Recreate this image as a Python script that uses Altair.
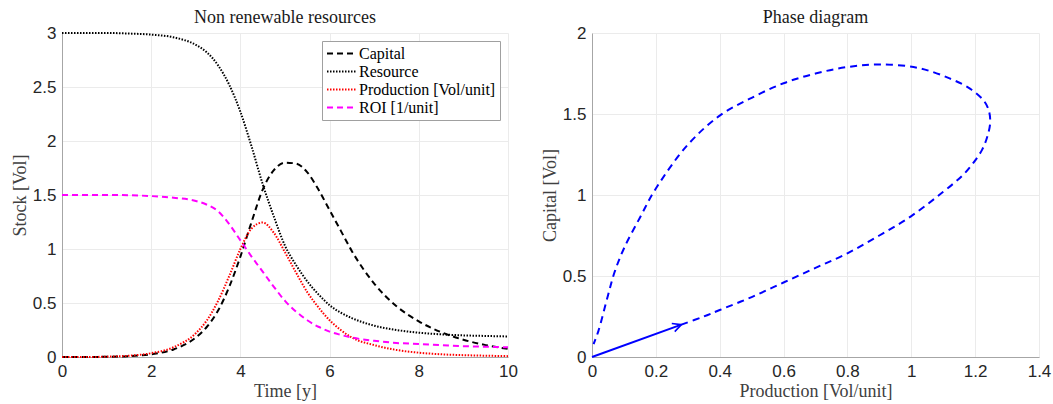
import altair as alt
import pandas as pd

# ---------------- data ----------------
T = [0, 0.5, 1, 1.5, 2, 2.5, 3, 3.25, 3.5, 3.75, 4, 4.25, 4.5, 4.75, 5, 5.25,
     5.5, 5.75, 6, 6.25, 6.5, 7, 7.5, 8, 8.5, 9, 9.5, 10]
capital = [0, 0, 0.002, 0.008, 0.025, 0.07, 0.18, 0.28, 0.43, 0.65, 0.93, 1.25,
           1.55, 1.73, 1.8, 1.79, 1.71, 1.55, 1.36, 1.17, 0.98, 0.68, 0.47,
           0.33, 0.23, 0.16, 0.11, 0.075]
resource = [3, 3, 3, 2.995, 2.985, 2.96, 2.89, 2.82, 2.7, 2.52, 2.27, 1.95, 1.6,
            1.3, 1.03, 0.85, 0.7, 0.58, 0.48, 0.41, 0.36, 0.29, 0.25, 0.225,
            0.21, 0.2, 0.195, 0.19]
production = [0, 0, 0.003, 0.012, 0.035, 0.09, 0.22, 0.34, 0.52, 0.75, 1.0,
              1.19, 1.245, 1.15, 0.97, 0.78, 0.6, 0.46, 0.34, 0.25, 0.18, 0.11,
              0.065, 0.04, 0.025, 0.017, 0.012, 0.008]
roi = [1.5, 1.5, 1.5, 1.498, 1.49, 1.475, 1.445, 1.41, 1.35, 1.23, 1.08, 0.93,
       0.79, 0.65, 0.52, 0.42, 0.34, 0.28, 0.235, 0.205, 0.18, 0.15, 0.13, 0.12,
       0.11, 0.1, 0.095, 0.09]

series_names = ["Capital", "Resource", "Production [Vol/unit]", "ROI [1/unit]"]
series_colors = ["#000000", "#000000", "#ff0000", "#ff00ff"]
series_dashes = [[6, 4], [1.5, 1.5], [1.5, 1.5], [6, 4]]

phase_p = [0.28, 0.35, 0.4, 0.5, 0.6, 0.7, 0.8, 0.9, 1.0, 1.1, 1.16, 1.195,
           1.222, 1.238, 1.247, 1.243, 1.228, 1.185, 1.12, 1.02, 0.9, 0.8, 0.7,
           0.6, 0.5, 0.4, 0.3, 0.2, 0.15, 0.1, 0.07, 0.05, 0.02, 0.005]
phase_k = [0.2, 0.25, 0.29, 0.37, 0.46, 0.55, 0.64, 0.75, 0.87, 1.02, 1.12,
           1.2, 1.28, 1.36, 1.445, 1.52, 1.58, 1.655, 1.72, 1.785, 1.806, 1.79,
           1.75, 1.69, 1.6, 1.49, 1.31, 1.04, 0.86, 0.67, 0.52, 0.38, 0.16,
           0.08]
arrow_p = [0, 0.28]
arrow_k = [0, 0.2]

# ---------------- tables ----------------
rows = []
for name, vals in zip(series_names, [capital, resource, production, roi]):
    for t, v in zip(T, vals):
        rows.append({"t": t, "v": v, "series": name})
df_left = pd.DataFrame(rows)
df_phase = pd.DataFrame({"p": phase_p, "k": phase_k, "i": range(len(phase_p))})
df_arrow = pd.DataFrame({"p": arrow_p, "k": arrow_k, "i": range(len(arrow_p))})
df_head = df_arrow.iloc[[-1]]

SERIF = "Liberation Serif"
SANS = "Liberation Sans"

def axis(title, values):
    return alt.Axis(title=title, values=values, format="~r", grid=True,
                    gridColor="#ebebeb", ticks=False, domainColor="#a6a6a6",
                    labelFont=SANS, labelFontSize=17, labelColor="#262626",
                    labelPadding=6, titleFont=SERIF, titleFontSize=18,
                    titleFontWeight="normal", titleColor="#404040",
                    titlePadding=3, labelFlush=False, labelOverlap=False)

W_L, W_R, H = 446, 447, 324

legend = alt.Legend(title=None, orient="none", legendX=260, legendY=8)

left = alt.Chart(df_left).mark_line(interpolate="monotone", strokeWidth=2).encode(
    x=alt.X("t:Q", scale=alt.Scale(domain=[0, 10], nice=False),
            axis=axis("Time [y]", [0, 2, 4, 6, 8, 10])),
    y=alt.Y("v:Q", scale=alt.Scale(domain=[0, 3], nice=False),
            axis=axis("Stock [Vol]", [0, 0.5, 1, 1.5, 2, 2.5, 3])),
    color=alt.Color("series:N", scale=alt.Scale(domain=series_names, range=series_colors),
                    legend=legend),
    strokeDash=alt.StrokeDash("series:N", scale=alt.Scale(domain=series_names, range=series_dashes),
                              legend=legend),
    detail="series:N",
).properties(width=W_L, height=H,
             title=alt.TitleParams("Non renewable resources", font=SERIF, fontSize=18,
                                   fontWeight="normal", color="#1a1a1a", offset=-3))

xs = alt.X("p:Q", scale=alt.Scale(domain=[0, 1.4], nice=False),
           axis=axis("Production [Vol/unit]", [0, 0.2, 0.4, 0.6, 0.8, 1, 1.2, 1.4]))
ys = alt.Y("k:Q", scale=alt.Scale(domain=[0, 2], nice=False),
           axis=axis("Capital [Vol]", [0, 0.5, 1, 1.5, 2]))

phase = alt.Chart(df_phase).mark_line(color="#0000ff", strokeWidth=2,
                                      strokeDash=[7, 5], interpolate="catmull-rom").encode(
    x=xs, y=ys, order="i:Q")
arrow_line = alt.Chart(df_arrow).mark_line(color="#0000ff", strokeWidth=2).encode(
    x="p:Q", y="k:Q", order="i:Q")
arrow_head = alt.Chart(df_head).mark_point(
    shape="M-1,-0.5L0,0L-1,0.5", filled=False, color="#0000ff", strokeWidth=1.6,
    size=300, angle=340, opacity=1).encode(x="p:Q", y="k:Q")

right = alt.layer(phase, arrow_line, arrow_head).properties(
    width=W_R, height=H,
    title=alt.TitleParams("Phase diagram", font=SERIF, fontSize=18,
                          fontWeight="normal", color="#1a1a1a", offset=-3))

chart = alt.hconcat(left, right, spacing=84, bounds="flush").properties(
    padding={"left": 11, "top": 9, "right": 1, "bottom": 3},
).configure_view(stroke=None).configure_legend(
    symbolType="stroke", symbolSize=841, symbolStrokeWidth=2,
    labelFont=SERIF, labelFontSize=16, labelColor="#000000", labelOffset=2,
    clipHeight=17, rowPadding=1, padding=4, strokeColor="#a0a0a0",
    fillColor="#ffffff", labelLimit=300,
)

chart.save("out.html", embed_options={"renderer": "svg", "actions": False})
